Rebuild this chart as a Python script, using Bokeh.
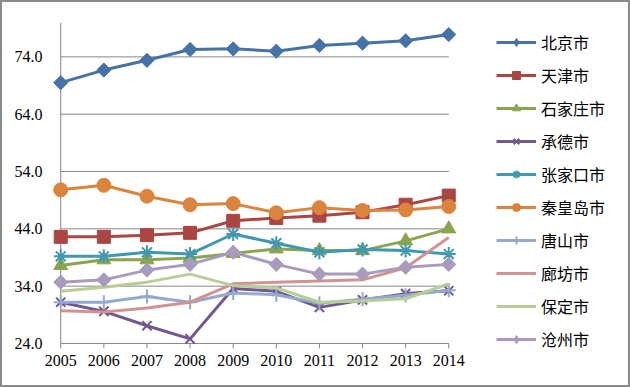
import math
from bokeh.plotting import figure
from bokeh.models import (Range1d, FixedTicker, NumeralTickFormatter, Legend, LegendItem,
                          ColumnDataSource)
from bokeh.embed import file_html
from bokeh.resources import INLINE

years = [2005, 2006, 2007, 2008, 2009, 2010, 2011, 2012, 2013, 2014]

beijing = [69.5, 71.7, 73.4, 75.3, 75.4, 75.0, 76.0, 76.4, 76.8, 77.9]
tianjin = [42.6, 42.6, 42.9, 43.3, 45.4, 45.9, 46.3, 46.9, 48.2, 49.8]
shijiazhuang = [37.6, 38.6, 38.6, 38.9, 39.7, 40.5, 40.2, 40.2, 41.9, 44.0]
chengde = [31.2, 29.6, 27.1, 24.8, 33.6, 33.1, 30.3, 31.6, 32.7, 33.2]
zhangjiakou = [39.2, 39.2, 39.9, 39.6, 43.1, 41.5, 39.9, 40.4, 40.2, 39.6]
qinhuangdao = [50.8, 51.6, 49.7, 48.2, 48.4, 46.8, 47.7, 47.2, 47.3, 47.9]
tangshan = [31.2, 31.2, 32.2, 31.2, 32.8, 32.5, 31.0, 31.7, 32.4, 33.3]
langfang = [29.7, 29.5, 30.2, 31.2, 34.4, 34.7, 34.9, 35.1, 37.2, 42.5]
baoding = [33.1, 33.8, 34.7, 36.1, 34.1, 33.7, 31.2, 31.4, 31.8, 34.4]
cangzhou = [34.7, 35.1, 36.8, 37.8, 39.9, 37.8, 36.1, 36.1, 37.3, 37.8]

city_names = ["北京市", "天津市", "石家庄市", "承德市", "张家口市",
              "秦皇岛市", "唐山市", "廊坊市", "保定市", "沧州市"]
series_values = [beijing, tianjin, shijiazhuang, chengde, zhangjiakou,
                 qinhuangdao, tangshan, langfang, baoding, cangzhou]

y_ticks = [24, 34, 44, 54, 64, 74]
y_max = 80

colors = ["#4572A7", "#AA4643", "#89A54E", "#71588F", "#4198AF",
          "#DB843D", "#93A9CF", "#D19392", "#B9CD96", "#A99BBD"]
# (plot marker, size, angle, line width, legend marker)
markers = [("square", 10, math.pi / 4, 1, "diamond"), ("square", 13, 0, 1, None),
           ("triangle", 14, 0, 1, None), ("x", 13, 0, 2, None),
           ("asterisk", 14, 0, 2, None), ("circle", 14, 0, 1, None),
           ("cross", 14, 0, 2, None), None, None,
           ("square", 10, math.pi / 4, 1, "diamond")]

GRID = "#868686"

# layout (pixels)
W, H = 630, 387
B_LEFT, B_RIGHT, B_TOP, B_BOTTOM = 41, 10, 20, 38
PX_PER_YEAR = 388 / 9
PAD = 0.4
frame_w = W - B_LEFT - B_RIGHT
x_start = years[0] - PAD
x_end = x_start + frame_w / PX_PER_YEAR

p = figure(width=W, height=H, output_backend="svg", toolbar_location=None,
           x_range=Range1d(x_start, x_end),
           y_range=Range1d(y_ticks[0] - 1.4, y_max),
           min_border_left=B_LEFT, min_border_right=B_RIGHT,
           min_border_top=B_TOP, min_border_bottom=B_BOTTOM)
p.styles = {"border": "2px solid #8a8a8a", "box-sizing": "border-box"}
p.outline_line_color = None
p.background_fill_color = "white"
p.border_fill_color = "white"
p.xgrid.visible = False
p.ygrid.visible = False

for ax in (p.xaxis[0], p.yaxis[0]):
    ax.axis_line_color = None
    ax.major_tick_line_color = None
    ax.minor_tick_line_color = None
    ax.major_tick_out = 0
    ax.major_tick_in = 0
    ax.major_label_text_font = "Liberation Serif"
    ax.major_label_text_font_size = "16px"
    ax.major_label_text_color = "black"

p.xaxis.ticker = FixedTicker(ticks=years)
p.xaxis.major_label_standoff = 3
p.yaxis.ticker = FixedTicker(ticks=y_ticks)
p.yaxis.formatter = NumeralTickFormatter(format="0.0")
p.yaxis.major_label_standoff = 1

# gridlines and axis lines spanning the category extent
grid_vals = y_ticks[1:]
p.segment(x0=[years[0]] * len(grid_vals), y0=grid_vals,
          x1=[years[-1]] * len(grid_vals), y1=grid_vals,
          line_color=GRID, line_width=1)
p.segment(x0=[years[0]], y0=[y_ticks[0]], x1=[years[-1]], y1=[y_ticks[0]],
          line_color=GRID, line_width=1)
p.segment(x0=[years[0]], y0=[y_ticks[0]], x1=[years[0]], y1=[y_max],
          line_color=GRID, line_width=1)
p.segment(x0=years, y0=[y_ticks[0]] * len(years), x1=years,
          y1=[y_ticks[0] - 0.85] * len(years), line_color=GRID, line_width=1)

items = []
for name, vals, c, mk in zip(city_names, series_values, colors, markers):
    src = ColumnDataSource(dict(x=years, y=vals))
    rs = [p.line("x", "y", source=src, line_color=c, line_width=3)]
    if mk is not None:
        m, s, a, lw, lm = mk
        sr = p.scatter("x", "y", source=src, marker=m, size=s, angle=a,
                       fill_color=c, line_color=c, line_width=lw)
        if lm is None:
            rs.append(sr)
        else:
            # legend-only marker: no plottable points, only its legend swatch shows
            hidden = ColumnDataSource(dict(x=years, y=[float("nan")] * len(years)))
            rs.append(p.scatter("x", "y", source=hidden, marker=lm, size=s,
                                fill_color=c, line_color=c))
    items.append(LegendItem(label=name, renderers=rs))

legend = Legend(items=items, location=(453, 0))
legend.label_text_font = "Noto Sans CJK SC"
legend.label_text_font_size = "16px"
legend.label_text_color = "black"
legend.glyph_width = 40
legend.glyph_height = 20
legend.label_height = 20
legend.spacing = 9
legend.padding = 0
legend.margin = 0
legend.label_standoff = 5
legend.border_line_color = None
legend.background_fill_alpha = 0
p.add_layout(legend, "center")

open("out.html", "w").write(file_html(p, INLINE))
